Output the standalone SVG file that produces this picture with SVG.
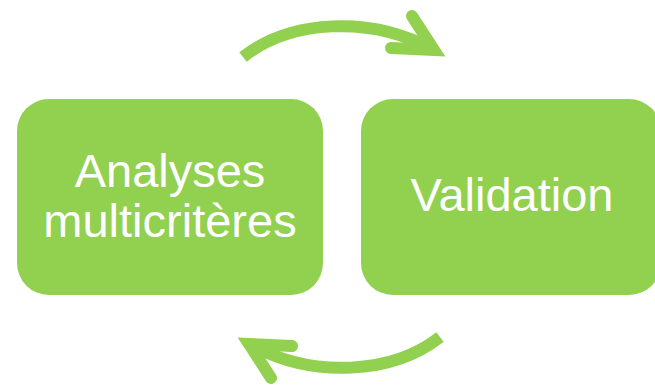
<svg xmlns="http://www.w3.org/2000/svg" xmlns:xlink="http://www.w3.org/1999/xlink" width="655" height="389" viewBox="0 0 655 389">
  <style>
    .box { fill: #92D050; }
    .label { fill: #FFFFFF; font-family: "Liberation Sans", Arial, sans-serif; font-size: 47px; text-anchor: middle; }
    .arrow { fill: none; stroke: #92D050; stroke-width: 12; }
    .head { stroke-linecap: round; stroke-linejoin: miter; stroke-miterlimit: 10; }
  </style>
  <defs>
    <!-- curved arrow with open chevron head, drawn over the top gap -->
    <g id="cycle-arrow">
      <path class="arrow" d="M243,57 C290,20 370,15 432,49"/>
      <path class="arrow head" d="M412,16 L434,50 L391,48"/>
    </g>
  </defs>

  <g id="connectors">
    <use xlink:href="#cycle-arrow"/>
    <use xlink:href="#cycle-arrow" transform="rotate(180 341.5 197)"/>
  </g>

  <g id="node-analyses">
    <rect class="box" x="17" y="99" width="306" height="196" rx="32" ry="32"/>
    <text class="label" x="170" y="187">Analyses</text>
    <text class="label" x="170" y="237">multicritères</text>
  </g>

  <g id="node-validation">
    <rect class="box" x="361" y="99" width="300" height="196" rx="32" ry="32"/>
    <text class="label" x="512" y="211">Validation</text>
  </g>
</svg>
